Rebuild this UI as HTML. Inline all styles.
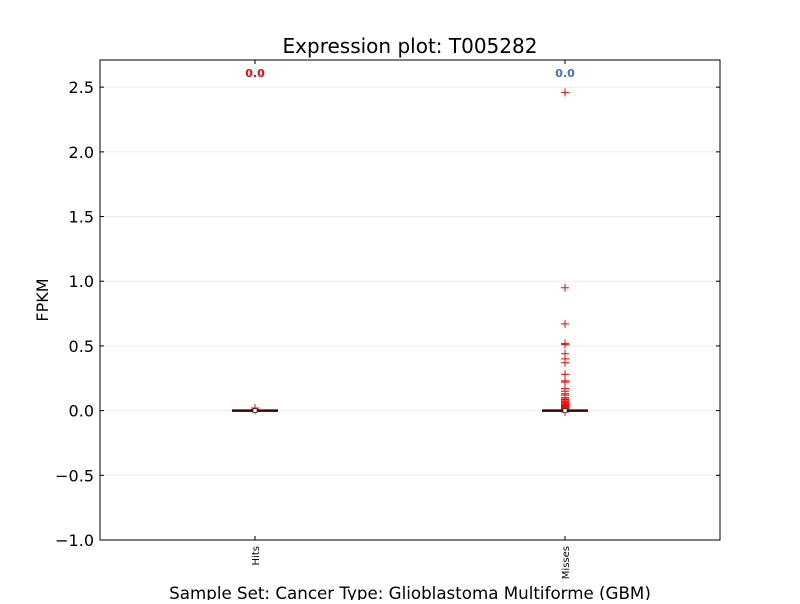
<!DOCTYPE html>
<html><head><meta charset="utf-8"><style>
body{margin:0;background:#fff;font-family:"DejaVu Sans","Liberation Sans",sans-serif}
</style></head><body>
<svg id="c" width="800" height="600" xmlns="http://www.w3.org/2000/svg" font-family="DejaVu Sans, Liberation Sans, sans-serif"></svg>
<script>
const categories=["Hits","Misses"];
const medians=[0.0,0.0];
const medianLabels=["0.0","0.0"];
const labelColors=["#ff0000","#4169e1"];
const hitsOutliers=[0.02,0.01,0.005];
const missesOutliers=[2.46,0.95,0.67,0.52,0.51,0.44,0.40,0.37,0.28,0.23,0.22,0.17,0.15,0.13,0.12,0.10,0.09,0.085,0.08,0.07,0.065,0.06,0.05,0.045,0.04,0.035,0.03,0.025,0.02,0.015,0.01,-0.01];
const yTicks=[-1.0,-0.5,0.0,0.5,1.0,1.5,2.0,2.5];
const yTickLabels=["\u22121.0","\u22120.5","0.0","0.5","1.0","1.5","2.0","2.5"];
const outliers=[hitsOutliers,missesOutliers];

const svg=document.getElementById('c');const NS="http://www.w3.org/2000/svg";
const L=100,R=720,T=60,B=540,ymin=-1.0,ymax=2.71;
const y=v=>B-(v-ymin)/(ymax-ymin)*(B-T);
const x=i=>L+(i+1-0.5)/2*(R-L);
function el(t,a,p){const e=document.createElementNS(NS,t);for(const k in a)e.setAttribute(k,a[k]);(p||svg).appendChild(e);return e;}
function txt(s,a){const e=el('text',a);e.textContent=s;return e;}

yTicks.forEach((v,i)=>{
  const g=el('line',{x1:L,x2:R,y1:y(v),y2:y(v),stroke:'#ebebeb','stroke-width':1});
  
  
  el('line',{x1:L,x2:L+4,y1:y(v),y2:y(v),stroke:'#000'});
  el('line',{x1:R-4,x2:R,y1:y(v),y2:y(v),stroke:'#000'});
  const t=txt(yTickLabels[i],{x:L-6,y:y(v)+6,'text-anchor':'end','font-size':16});
  
  
});

categories.forEach((c,i)=>{
  const cx=x(i);
  el('line',{x1:cx,x2:cx,y1:B,y2:B-4,stroke:'#000'});
  el('line',{x1:cx,x2:cx,y1:T,y2:T+4,stroke:'#000'});
  outliers[i].forEach(v=>{
    const p=el('path',{d:`M${cx-4},${y(v)}h8M${cx},${y(v)-4}v8`,stroke:'#ff0000','stroke-width':1});
    
    
  });
  const m=el('line',{x1:cx-23,x2:cx+23,y1:y(medians[i]),y2:y(medians[i]),stroke:'#3a0000','stroke-width':2.5});
  
  
  el('rect',{x:cx-2,y:y(medians[i])-2,width:4,height:4,fill:'#fff',stroke:'#333','stroke-width':0.8});
  const ml=txt(medianLabels[i],{x:cx,y:T+17,'text-anchor':'middle','font-size':11,'font-weight':'bold',fill:labelColors[i]});
  
  
  const xl=txt(c,{transform:`translate(${cx+4},${B+6}) rotate(-90)`,'text-anchor':'end','font-size':10});
  
  
});

el('rect',{x:L,y:T,width:R-L,height:B-T,fill:'none',stroke:'#000','stroke-width':1});
const tt=txt('Expression plot: T005282',{x:410,y:53,'text-anchor':'middle','font-size':20});

const yt=txt('FPKM',{transform:'translate(48,300) rotate(-90)','text-anchor':'middle','font-size':16});

const xt=txt('Sample Set: Cancer Type: Glioblastoma Multiforme (GBM)',{x:410,y:599,'text-anchor':'middle','font-size':16.7});

</script>
</body></html>
